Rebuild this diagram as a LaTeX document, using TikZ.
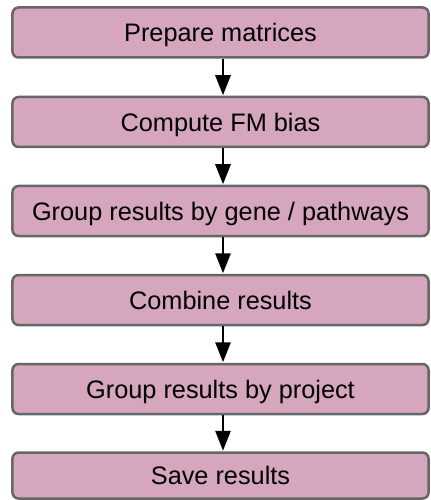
\documentclass[tikz,border=0pt]{standalone}
\usepackage{fontspec}
\setmainfont{Liberation Sans}
\usetikzlibrary{arrows.meta}
\definecolor{boxfill}{HTML}{D5A6BD}
\definecolor{boxline}{HTML}{666666}
\begin{document}
\begin{tikzpicture}[x=1bp,y=-1bp,
  stepbox/.style={draw=boxline, fill=boxfill, line width=2.5bp, rounded corners=6bp,
    minimum width=416bp, minimum height=50bp, inner sep=0pt,
    text height=18.2bp, text depth=0pt,
    font=\fontsize{25.4}{30}\selectfont, text=black},
  flow/.style={line width=2.8bp, draw=black,
    -{Triangle[length=20bp,width=15bp]}, shorten >=0.5bp}]
\useasboundingbox (0,0) rectangle (430,500);
\node[stepbox] (s1) at (220.5,32.5) {Prepare matrices};
\node[stepbox] (s2) at (220.5,122) {Compute FM bias};
\node[stepbox] (s3) at (220.5,211) {Group results by gene / pathways};
\node[stepbox] (s4) at (220.5,300) {Combine results};
\node[stepbox] (s5) at (220.5,389) {Group results by project};
\node[stepbox, minimum height=46bp] (s6) at (220.5,475.5) {Save results};
\foreach \a/\b in {s1/s2,s2/s3,s3/s4,s4/s5,s5/s6}
  \draw[flow] ([xshift=2.5bp]\a.south) -- ([xshift=2.5bp]\b.north);
\end{tikzpicture}
\end{document}
